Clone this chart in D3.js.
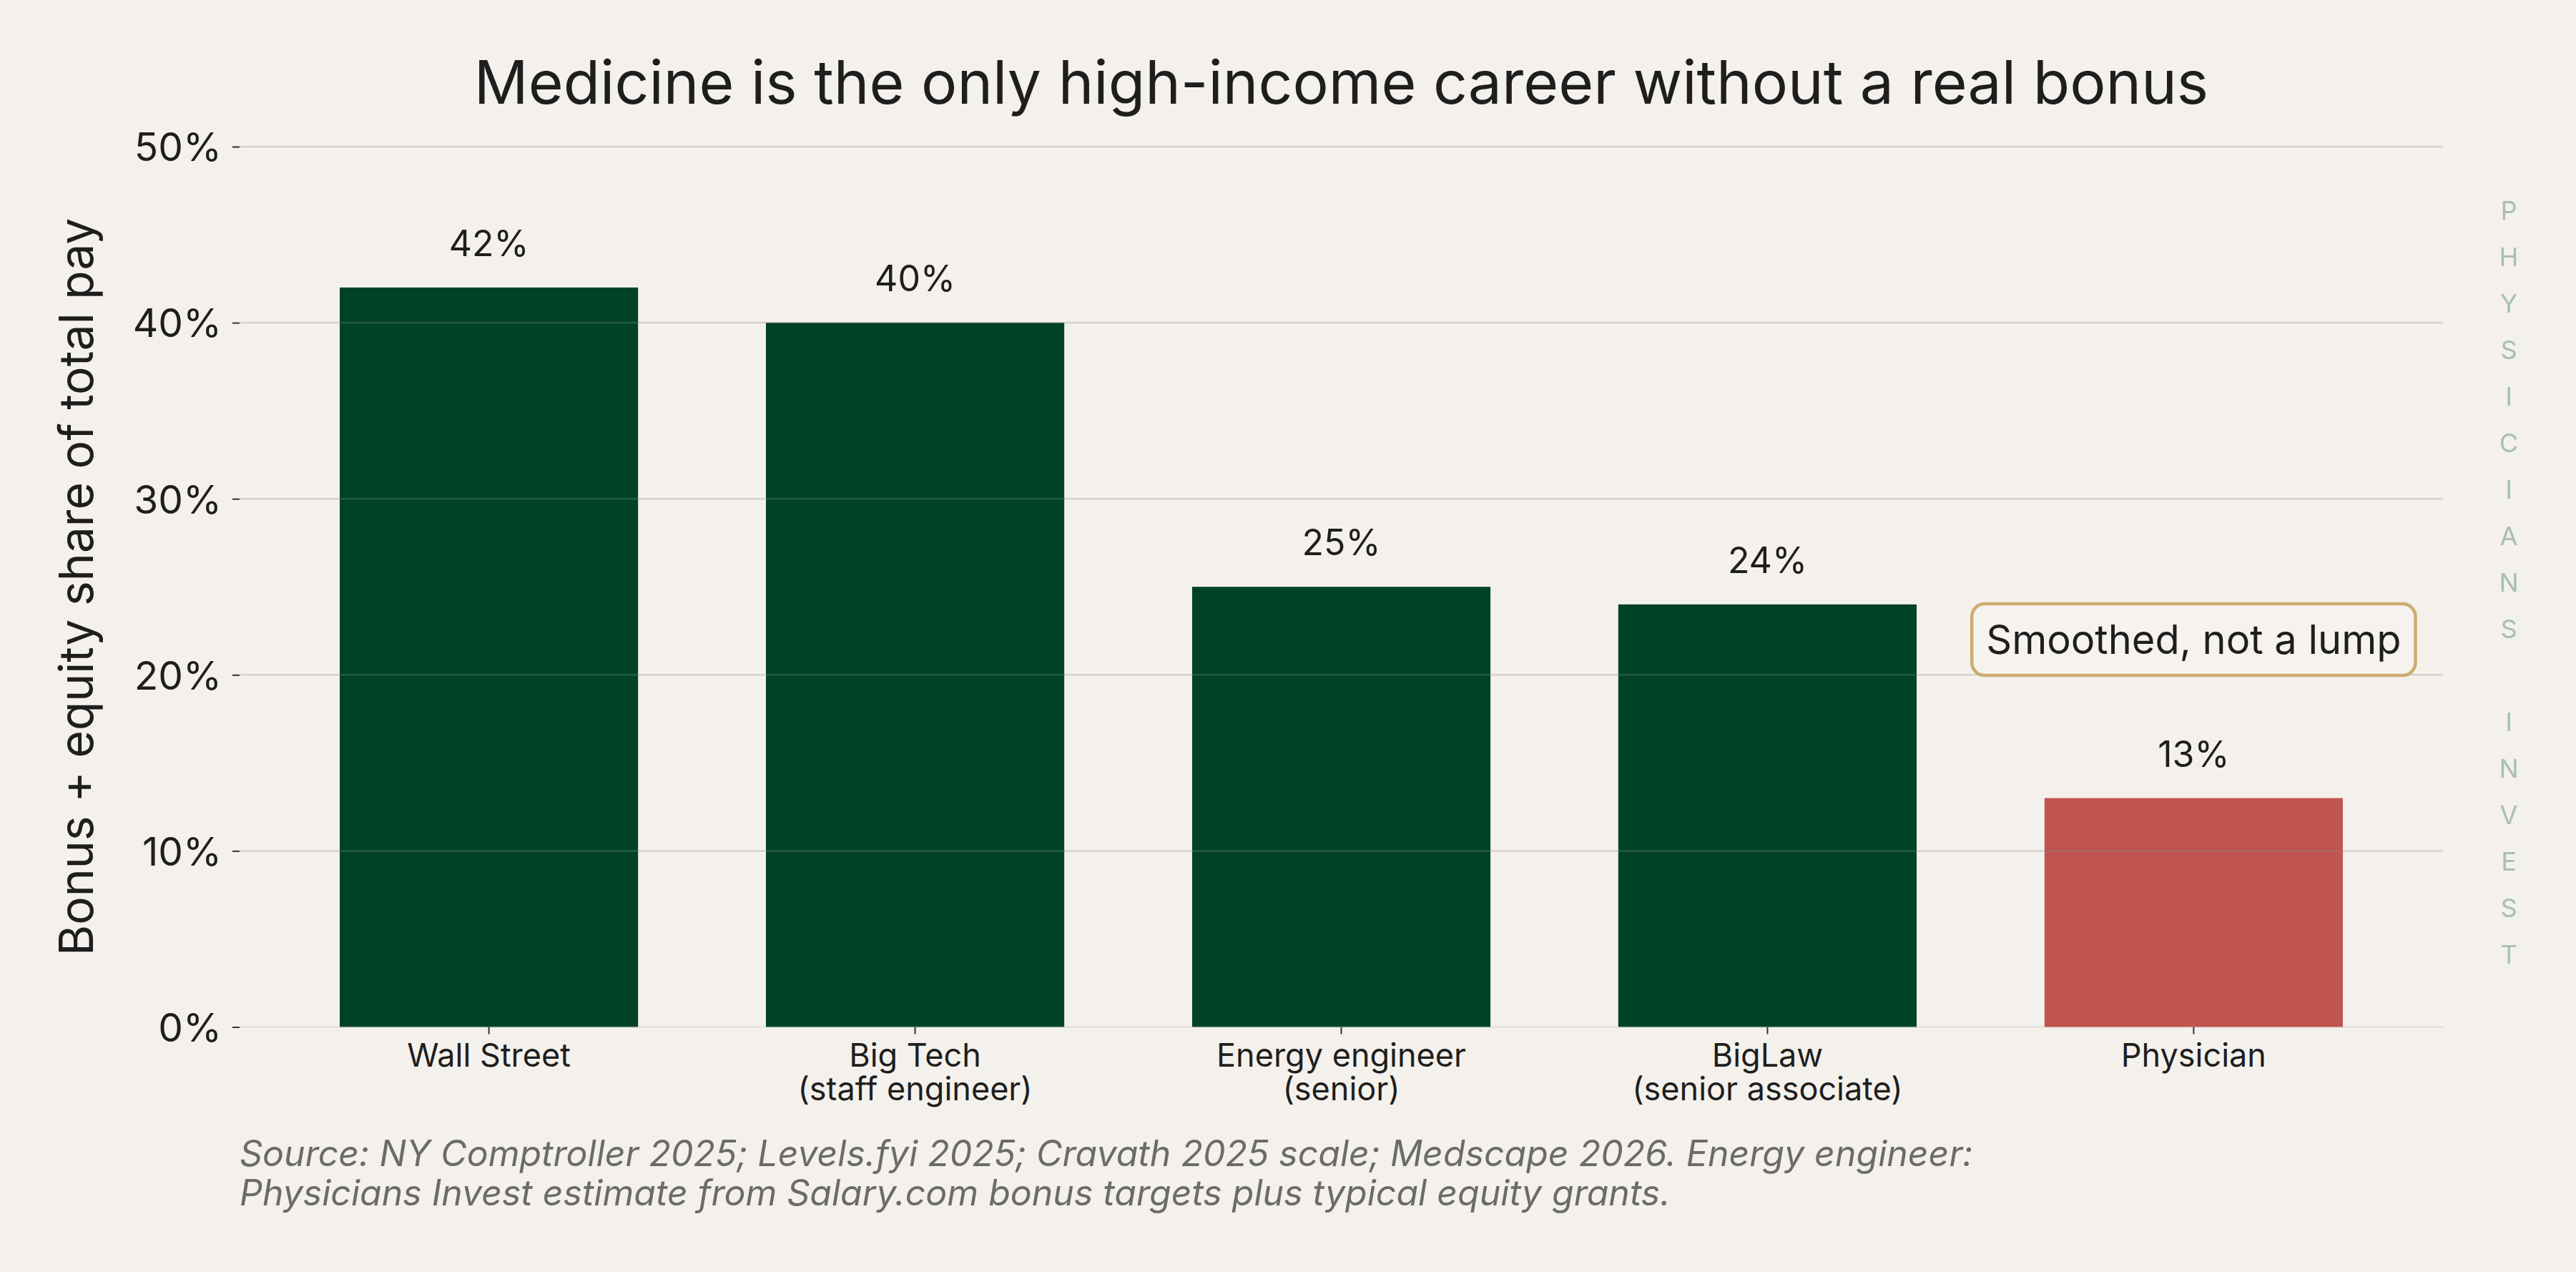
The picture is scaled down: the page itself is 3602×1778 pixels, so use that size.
<!DOCTYPE html>
<html>
<head>
<meta charset="utf-8">
<script src="https://cdn.jsdelivr.net/npm/d3@7"></script>
<style>
  html, body { margin: 0; padding: 0; background: #f4f1ec; }
  svg { display: block; font-family: Inter, "Noto Sans", sans-serif; }
</style>
</head>
<body>
<svg id="chart" width="3602" height="1778"></svg>
<script>
// ---- data ----
const categories = ["Wall Street", "Big Tech\n(staff engineer)", "Energy engineer\n(senior)", "BigLaw\n(senior associate)", "Physician"];
const values = [42, 40, 25, 24, 13];
const highlight = "Physician";
const yTicks = [0, 10, 20, 30, 40, 50];
const title = "Medicine is the only high-income career without a real bonus";
const yLabel = "Bonus + equity share of total pay";
const annotationText = "Smoothed, not a lump";
const annotationAt = { category: "Physician", value: 22 };
const footnoteLines = [
  "Source: NY Comptroller 2025; Levels.fyi 2025; Cravath 2025 scale; Medscape 2026. Energy engineer:",
  "Physicians Invest estimate from Salary.com bonus targets plus typical equity grants."
];
const watermark = "PHYSICIANS INVEST";

// ---- layout ----
const W = 3602, H = 1778;
const plot = { left: 335, right: 3416, top: 205, bottom: 1435.5 };
const colors = { bg: "#f4f1ec", bar: "#004226", hi: "#c0544f", text: "#1e1e1e", grid: "#8c8c8c", box: "#cdab70", foot: "#6b6b6b", mark: "#a9bfb2" };

const svg = d3.select("#chart");
svg.append("rect").attr("width", W).attr("height", H).attr("fill", colors.bg);

const data = categories.map((c, i) => ({ cat: c, v: values[i] }));

const x = d3.scaleBand().domain(categories).range([plot.left, plot.right]).paddingInner(0.3).paddingOuter(0.235);
const y = d3.scaleLinear().domain([0, 50]).range([plot.bottom, plot.top]);

// bars
svg.append("g").selectAll("rect").data(data).join("rect")
  .attr("x", d => x(d.cat))
  .attr("width", x.bandwidth())
  .attr("y", d => y(d.v))
  .attr("height", d => y(0) - y(d.v))
  .attr("fill", d => d.cat === highlight ? colors.hi : colors.bar);

// gridlines (on top of bars, translucent)
svg.append("g").selectAll("line").data(yTicks).join("line")
  .attr("x1", plot.left).attr("x2", plot.right)
  .attr("y1", d => y(d)).attr("y2", d => y(d))
  .attr("stroke", colors.grid)
  .attr("stroke-opacity", d => d === 0 ? 0.15 : 0.3)
  .attr("stroke-width", 2.5);

// y axis
const yAxis = svg.append("g").attr("transform", `translate(${plot.left},0)`)
  .call(d3.axisLeft(y).tickValues(yTicks).tickFormat(d => d + "%").tickSize(10).tickPadding(15));
yAxis.select(".domain").remove();
yAxis.selectAll(".tick line").attr("stroke", "#333").attr("stroke-width", 2);
yAxis.selectAll(".tick text").attr("fill", colors.text).style("font-size", "55px").style("font-family", "Inter").attr("dy", "0.36em");

// x axis
const xAxis = svg.append("g").attr("transform", `translate(0,${plot.bottom})`)
  .call(d3.axisBottom(x).tickSize(10).tickPadding(10));
xAxis.select(".domain").remove();
xAxis.selectAll(".tick line").attr("stroke", "#333").attr("stroke-width", 2);
xAxis.selectAll(".tick text").each(function(d) {
  const t = d3.select(this);
  t.text(null).attr("y", 55.5).attr("dy", null).attr("fill", colors.text)
    .style("font-size", "45px").style("font-family", "Inter");
  d.split("\n").forEach((line, i) => {
    t.append("tspan").attr("x", 0).attr("dy", i === 0 ? 0 : 47).text(line);
  });
});

// value labels
svg.append("g").selectAll("text").data(data).join("text")
  .attr("x", d => x(d.cat) + x.bandwidth() / 2)
  .attr("y", d => y(d.v) - 44)
  .attr("text-anchor", "middle")
  .attr("fill", colors.text)
  .style("font-size", "50px")
  .text(d => d.v + "%");

// title
svg.append("text")
  .attr("x", (plot.left + plot.right) / 2).attr("y", 145)
  .attr("text-anchor", "middle").attr("fill", colors.text)
  .style("font-size", "84px")
  .text(title);

// y label
svg.append("text")
  .attr("transform", `translate(130,${(plot.top + plot.bottom) / 2}) rotate(-90)`)
  .attr("text-anchor", "middle").attr("fill", colors.text)
  .style("font-size", "66px")
  .text(yLabel);

// annotation box
const ax = x(annotationAt.category) + x.bandwidth() / 2;
const ay = y(annotationAt.value);
const ag = svg.append("g");
const at = ag.append("text")
  .attr("x", ax).attr("y", ay).attr("dy", "0.36em")
  .attr("text-anchor", "middle").attr("fill", colors.text)
  .style("font-size", "56px")
  .text(annotationText);
const bb = at.node().getBBox();
const padX = 20, boxH = 100;
ag.insert("rect", "text")
  .attr("x", bb.x - padX).attr("width", bb.width + 2 * padX)
  .attr("y", ay - boxH / 2).attr("height", boxH)
  .attr("rx", 18).attr("ry", 18)
  .attr("fill", "#f6f3ef").attr("stroke", colors.box).attr("stroke-width", 4.5);

// footnote
const fn = svg.append("text").attr("fill", colors.foot).style("font-size", "50px").style("font-style", "italic");
footnoteLines.forEach((l, i) => fn.append("tspan").attr("x", plot.left).attr("y", 1630 + i * 55).text(l));

// watermark
const wm = svg.append("text").attr("fill", colors.mark).attr("text-anchor", "middle").style("font-size", "36px");
watermark.split("").forEach((ch, i) => wm.append("tspan").attr("x", 3508).attr("y", 307 + i * 65).text(ch === " " ? "\u00a0" : ch));
</script>
</body>
</html>
